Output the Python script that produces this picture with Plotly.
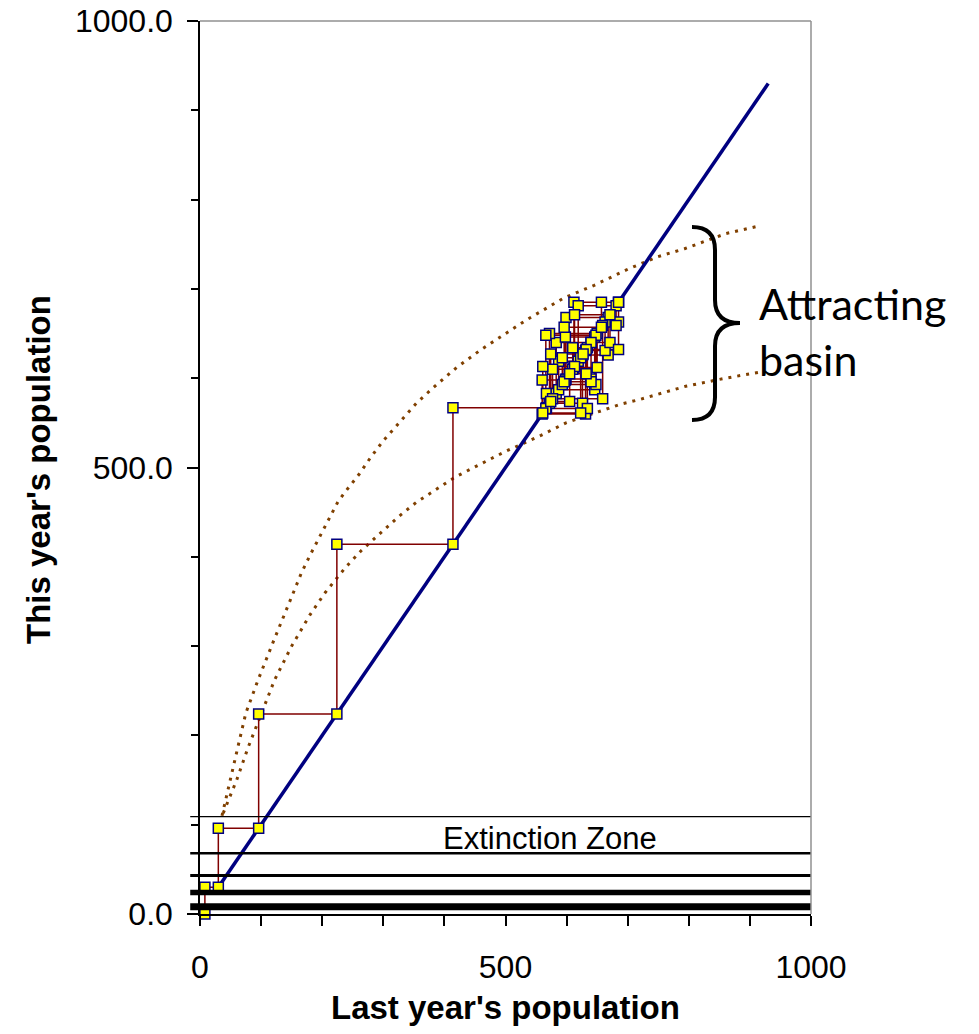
import plotly.graph_objects as go

# ---------------- data ----------------
# population sequence of the cobweb
population = [8, 30, 96, 224, 414, 567, 583, 640, 599, 668, 626, 572, 650, 612,
              685, 663, 631, 560, 598, 646, 587, 619, 681, 659, 577, 610, 634,
              566, 648, 593, 623, 561, 613, 671, 640, 596, 657, 685, 632, 605,
              574, 627]

# replacement line (this year = last year)
diag_x = [30, 930]
diag_y = [30, 930]

# upper bound of the stochastic map (dotted)
upper_x = [36, 49, 62, 75, 95, 120, 145, 166, 181, 204, 226, 238, 261, 279, 300,
           327, 354, 386, 420, 460, 500, 536, 596, 645, 700, 749, 793, 861, 918]
upper_y = [110, 150, 187, 225, 262, 305, 348, 382, 403, 434, 462, 473, 493, 511,
           530, 551, 572, 592, 612, 632, 650, 666, 690, 704, 722, 736, 745, 762, 771]

# lower bound of the stochastic map (dotted)
lower_x = [38, 60, 79, 101, 122, 150, 180, 205, 229, 238, 264, 296, 325, 354, 387,
           417, 448, 500, 558, 599, 629, 659, 689, 719, 795, 860, 918]
lower_y = [113, 150, 187, 225, 262, 300, 335, 360, 380, 388, 407, 427, 445, 461,
           476, 489, 500, 518, 536, 550, 557, 564, 571, 576, 591, 600, 607]

# extinction zone horizontal lines
extinction_levels = [109, 68, 43, 24, 8]

x_tick_vals = [0, 500, 1000]
y_tick_vals = [0, 500, 1000]

# ---------------- build cobweb path ----------------
cob_x = [population[0]]
cob_y = [0]
for a, b in zip(population[:-1], population[1:]):
    cob_x += [a, b]
    cob_y += [b, b]

FONT = "Liberation Sans, Arial, sans-serif"

fig = go.Figure()

for bx, by in ((upper_x, upper_y), (lower_x, lower_y)):
    fig.add_trace(go.Scatter(x=bx, y=by, mode="lines",
                             line=dict(color="#804000", width=3, dash="3px,6px"),
                             hoverinfo="skip"))
fig.add_trace(go.Scatter(x=diag_x, y=diag_y, mode="lines",
                         line=dict(color="#000080", width=3.5)))
fig.add_trace(go.Scatter(x=cob_x, y=cob_y, mode="lines+markers",
                         line=dict(color="#800000", width=1.5),
                         marker=dict(symbol="square", size=10, color="#FFFF00",
                                     line=dict(color="#000080", width=1.5)),
                         cliponaxis=False))

# ---------------- shapes ----------------
widths = [1.2, 2.5, 3, 5.5, 7]
shapes = []
for lvl, w in zip(extinction_levels, widths):
    shapes.append(dict(type="line", xref="paper", yref="y", x0=-0.016, x1=1.0,
                       y0=lvl, y1=lvl, line=dict(color="black", width=w)))

# plot-area border (top & right, grey)
shapes.append(dict(type="line", xref="paper", yref="paper", x0=0, x1=1, y0=1, y1=1,
                   line=dict(color="#909090", width=1.5)))
shapes.append(dict(type="line", xref="paper", yref="paper", x0=1, x1=1, y0=0, y1=1,
                   line=dict(color="#909090", width=1.5)))

# curly brace (pixel positions converted to paper coordinates)
L, T, W, H = 200, 21, 611, 893


def px(x, y):
    return f"{(x - L) / W:.4f},{(T + H - y) / H:.4f}"


brace = (f"M {px(692, 227)} Q {px(715, 227)} {px(715, 250)} L {px(715, 300)} "
         f"Q {px(715, 323)} {px(740, 323)} Q {px(715, 323)} {px(715, 346)} "
         f"L {px(715, 397)} Q {px(715, 420)} {px(692, 420)}")
shapes.append(dict(type="path", xref="paper", yref="paper", path=brace,
                   line=dict(color="black", width=4)))

fig.update_layout(
    width=979, height=1034,
    margin=dict(l=L, r=979 - L - W, t=T, b=1034 - T - H, autoexpand=False),
    plot_bgcolor="white", paper_bgcolor="white",
    showlegend=False,
    shapes=shapes,
    font=dict(family=FONT, color="black"),
    annotations=[
        dict(x=573, y=84, xref="x", yref="y", text="Extinction Zone",
             showarrow=False, font=dict(family=FONT, size=31, color="black"),
             xanchor="center", yanchor="middle"),
        dict(x=(757 - L) / W, y=(T + H - 331) / H, xref="paper", yref="paper",
             text="Attracting<br>basin", showarrow=False, align="left",
             xanchor="left", yanchor="middle",
             font=dict(family="Lato, Carlito, sans-serif", size=43, color="black")),
        dict(x=0.5, y=(T + H - 1007) / H, xref="paper", yref="paper",
             text="<b>Last year's population</b>", showarrow=False,
             xanchor="center", yanchor="middle",
             font=dict(family=FONT, size=33, color="black")),
        dict(x=(38 - L) / W, y=(T + H - 470) / H, xref="paper", yref="paper",
             text="<b>This year's population</b>", showarrow=False, textangle=-90,
             xanchor="center", yanchor="middle",
             font=dict(family=FONT, size=33, color="black")),
    ],
)

fig.update_xaxes(
    range=[0, 1000], tickvals=x_tick_vals, ticktext=[str(v) for v in x_tick_vals],
    ticks="outside", ticklen=10, tickwidth=1.5, tickcolor="black",
    showline=True, linecolor="black", linewidth=1.5,
    showgrid=False, zeroline=False, automargin=False, ticklabelstandoff=14,
    minor=dict(dtick=100, tick0=0, ticks="outside", ticklen=10, tickwidth=1.5,
               tickcolor="black", showgrid=False),
    tickfont=dict(family=FONT, size=32, color="black"),
)
fig.update_yaxes(
    range=[0, 1000], tickvals=y_tick_vals, ticktext=[f"{v:.1f}" for v in y_tick_vals],
    ticks="outside", ticklen=11, tickwidth=1.5, tickcolor="black",
    showline=True, linecolor="black", linewidth=1.5,
    showgrid=False, zeroline=False, automargin=False, ticklabelstandoff=8,
    minor=dict(dtick=100, tick0=0, ticks="outside", ticklen=7, tickwidth=1.5,
               tickcolor="black", showgrid=False),
    tickfont=dict(family=FONT, size=32, color="black"),
)

fig.write_html("out.html")
